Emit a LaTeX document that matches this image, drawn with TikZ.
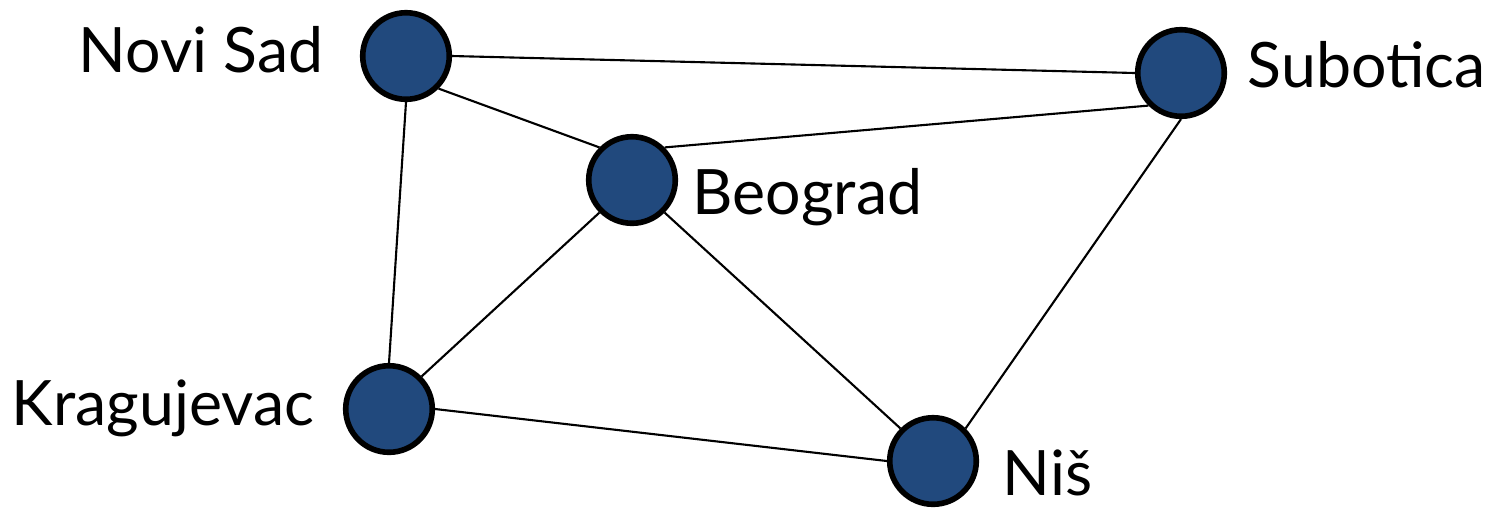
\documentclass[tikz,border=0pt]{standalone}
\usepackage{fontspec}
\setmainfont{Lato}
\definecolor{cityblue}{RGB}{33,73,125}
\begin{document}
\begin{tikzpicture}[x=0.01cm,y=-0.01cm,
  city/.style={circle,draw=black,fill=cityblue,line width=1.6pt,minimum size=0.865cm,inner sep=0pt},
  road/.style={line width=0.6pt},
  citylabel/.style={inner sep=0pt,font=\fontsize{17.8}{21}\selectfont}]
\useasboundingbox (0,0) rectangle (1489,508);
% cities
\node[city] (ns) at (406,56) {};
\node[city] (su) at (1181,73) {};
\node[city] (bg) at (632,180) {};
\node[city] (kg) at (389,409) {};
\node[city] (ni) at (933,461) {};
% roads, attached at compass points of the cities
\draw[road] (ns.east) -- (su.west);
\draw[road] (ns.south east) -- (bg.north west);
\draw[road] (ns.south) -- (kg.north);
\draw[road] (bg.north east) -- (su.south west);
\draw[road] (bg.south west) -- (kg.north east);
\draw[road] (bg.south east) -- (ni.north west);
\draw[road] (su.south) -- (ni.north east);
\draw[road] (kg.east) -- (ni.west);
% labels
\node[citylabel,anchor=base east] (lns) at (324,72) {Novi Sad};
\node[citylabel,anchor=base west] (lsu) at (1247,87) {Subotica};
\node[citylabel,anchor=base west] (lbg) at (692,214) {Beograd};
\node[citylabel,anchor=base east] (lkg) at (315,425) {Kragujevac};
\node[citylabel,anchor=base west] (lni) at (1002,495) {Niš};
\end{tikzpicture}
\end{document}
